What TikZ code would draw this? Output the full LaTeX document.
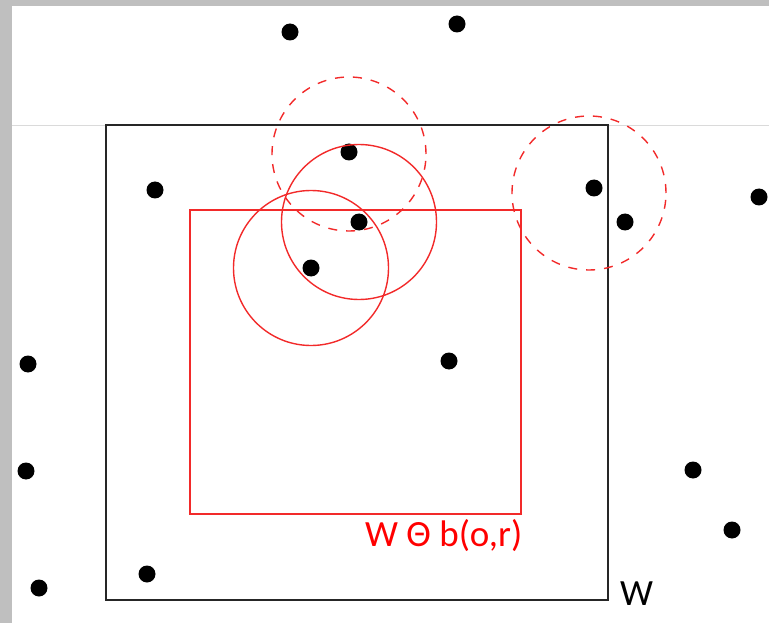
\documentclass[tikz,border=0pt]{standalone}
\usepackage{fontspec}
\setmainfont{Carlito}
\usetikzlibrary{positioning}
\definecolor{wRed}{HTML}{F22A2A}
\definecolor{wText}{HTML}{FF0000}
\definecolor{wGrey}{HTML}{BFBFBF}
\definecolor{wFaint}{HTML}{DADADA}

\tikzset{
  pt/.style={circle, fill=black, inner sep=0pt, minimum size=17pt},
  winbox/.style={draw=black!85, line width=2pt},
  erodebox/.style={draw=wRed, line width=1.4pt},
  ball/.style={draw=wRed, line width=1.4pt},
  dball/.style={ball, dash pattern=on 9pt off 9pt},
  lbl/.style={inner sep=0pt, anchor=base west, font=\fontsize{37}{42}\selectfont}
}

\begin{document}
\begin{tikzpicture}[x=1pt, y=-1pt]
    \useasboundingbox (0,0) rectangle (769,623);
    % page edges
    \fill[wGrey] (0,0) rectangle (12,623);
    \fill[wGrey] (0,0) rectangle (769,6);
    \draw[wFaint, line width=1pt] (12,126) -- (769,126);
    % points of the process
    \foreach \x/\y [count=\i] in {290/32, 457/24, 349/152, 155/190, 594/188, 759/197,
      359/222, 625/222, 311/268, 449/361, 28/364, 26/471, 693/470, 732/530, 147/574, 39/588} {
      \node[pt] (p\i) at (\x,\y) {};
    }
    % window and eroded window
    \draw[winbox] (106,125) rectangle (608,600);
    \draw[erodebox] (190,210) rectangle (521,514);
    % balls b(o,r)
    \coordinate (a) at (349,154);
    \draw[dball] (a) circle[radius=77pt];
    \draw[ball] (p7) circle[radius=77.5pt];
    \draw[ball] (p9) circle[radius=77.5pt];
    \coordinate (o) at (589,193);
    \draw[dball] (o) circle[radius=77pt];
    % labels
    \node[lbl, text=wText] (erode) at (365,546) {W Θ b(o,r)};
    \node[lbl] (win) at (620,605) {W};
  \end{tikzpicture}
\end{document}
